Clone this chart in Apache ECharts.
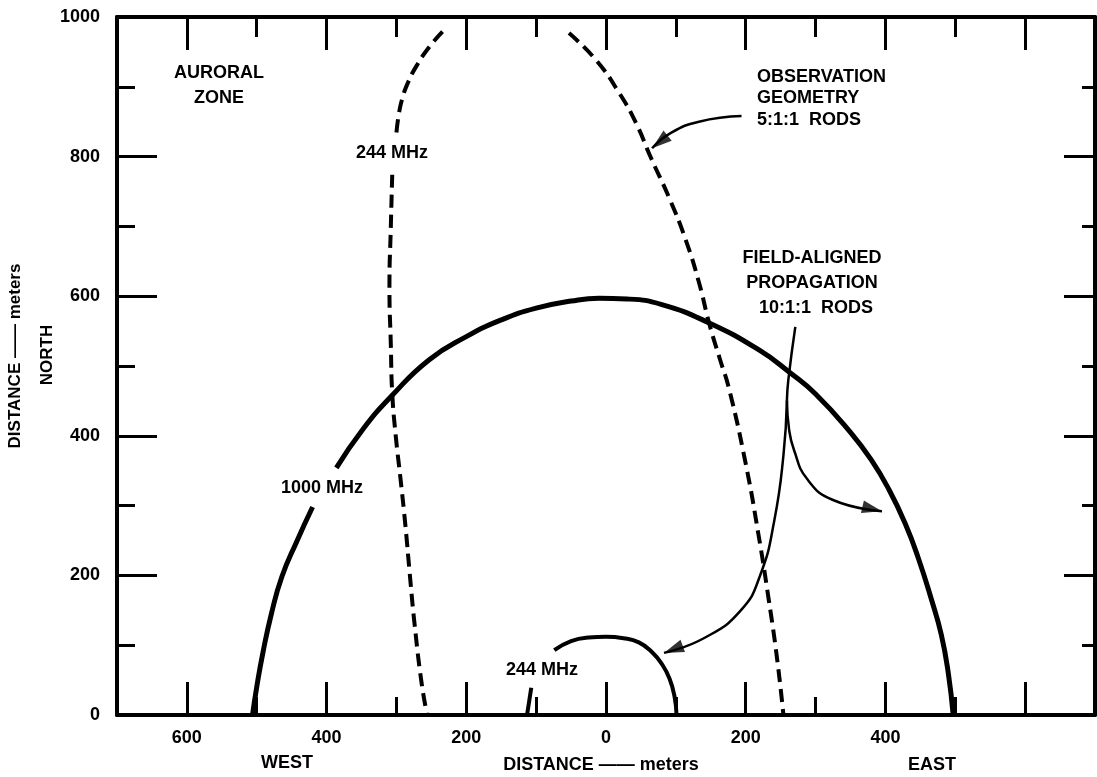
<!DOCTYPE html>
<html><head><meta charset="utf-8">
<script src="https://cdn.jsdelivr.net/npm/echarts@6/dist/echarts.min.js"></script>
<style>html,body{margin:0;padding:0;background:#fff}#c{width:1097px;height:777px}</style>
</head><body><div id="c"></div>
<script>
// ---- data (meters) ----
const xLongTicks = [-600,-400,-200,0,200,400,600];
const xShortTicks = [-500,-300,-100,100,300,500];
const xTickLabels = [-600,-400,-200,0,200,400];
const curve1000A = [[-506,0],[-500,40],[-491,90],[-479,145],[-464,198],[-443,248],[-420,298]];
const curve1000B = [[-386,354],[-349,408],[-306,458],[-253,509],[-200,542],[-150,566],[-100,583],[-50,593],[-10,597],[30,596],[80,588],[147,562],[219,523],[264,490],[300,460],[350,405],[380,365],[405,323],[428,275],[447,225],[466,165],[480,115],[490,60],[497,0]];
const dashed244Top = [[-234,979],[-253,957],[-270,932],[-283,907],[-292,882],[-297,858],[-300,834]];
const dashed244Bottom = [[-306,774],[-308,700],[-310,613],[-308,530],[-306,461],[-301,400],[-294,337],[-287,270],[-281,203],[-274,130],[-264,46],[-256,0]];
const observationCurve = [[-53,977],[-14,938],[19,891],[43,848],[64,799],[90,742],[114,681],[133,620],[148,560],[163,510],[176,468],[200,360],[218,260],[233,165],[245,80],[254,0]];
const small244Stub = [[-113,0],[-107,39]];
const small244Arc = [[-74,93],[-50,106],[-25,111],[0,112],[25,110],[47,104],[66,90],[80,73],[91,52],[98,27],[101,0]];
const obsArrow = [[194,858],[133,850],[93,834],[66,812]];
const fieldStem = [[271,556],[261,480],[259,451]];
const fieldRight = [[259,451],[262,410],[269,380],[288,338],[325,308],[395,292]];
const fieldLeft = [[259,451],[254,372],[241,279],[221,201],[193,150],[140,110],[83,89]];

const FONT = '"Liberation Sans", Arial, Helvetica, sans-serif';
const black = '#000';
const chart = echarts.init(document.getElementById('c'), null, {renderer:'canvas'});

function xAx(pos, ticks, len, showLine, labels){
  return {
    type:'value', position:pos, min:-700, max:700, interval:100,
    axisLine:{show:showLine, onZero:false, lineStyle:{color:black, width:4}},
    axisTick:{show:true, inside:true, length:len, customValues:ticks, lineStyle:{color:black, width:3}},
    axisLabel: labels ? {show:true, customValues:labels, margin:14, color:black, fontSize:18, fontWeight:'bold', fontFamily:FONT,
      formatter:v=>String(Math.abs(v))} : {show:false},
    splitLine:{show:false}
  };
}
function yAx(pos, longLen, shortLen, labels){
  return {
    type:'value', position:pos, min:0, max:1000, interval:200,
    axisLine:{show:true, onZero:false, lineStyle:{color:black, width:4}},
    axisTick:{show:true, inside:true, length:longLen, lineStyle:{color:black, width:3}},
    minorTick:{show:true, splitNumber:2, length:shortLen, lineStyle:{color:black, width:3}},
    axisLabel: labels ? {show:true, margin:17, color:black, fontSize:18, fontWeight:'bold', fontFamily:FONT,
      formatter:v=>String(v)} : {show:false},
    splitLine:{show:false}, minorSplitLine:{show:false}
  };
}
function seg(data, width, dashed){
  return {type:'line', xAxisIndex:0, yAxisIndex:0, data:data, smooth:0.5, showSymbol:false, symbol:'none',
    lineStyle:{color:black, width:width, type: dashed ? [13,7] : 'solid', cap:'butt'}, silent:true, z:3};
}
function txt(text, x, y, opts){
  opts = opts || {};
  return {type:'text', x:x, y:y, rotation: opts.rot || 0, z:10,
    style:{text:text, fill:black, fontSize: opts.size || 18, fontWeight:'bold', fontFamily:FONT,
      align: opts.align || 'center', verticalAlign:'middle', lineHeight: opts.lh || 22}};
}

const option = {
  animation:false,
  backgroundColor:'#fff',
  grid:{left:117, right:2, top:17, bottom:62, containLabel:false},
  xAxis:[xAx('bottom', xLongTicks, 33, true, xTickLabels), xAx('bottom', xShortTicks, 18, false, null),
         xAx('top', xLongTicks, 33, true, null), xAx('top', xShortTicks, 20, false, null)],
  yAxis:[yAx('left', 40, 18, true), yAx('right', 31, 13, false)],
  series:[
    seg(curve1000A, 5, false), seg(curve1000B, 5, false),
    seg(dashed244Top, 4, true), seg(dashed244Bottom, 4, true),
    seg(observationCurve, 4, true),
    seg(small244Stub, 4, false), seg(small244Arc, 4, false),
    seg(obsArrow, 2.5, false), seg(fieldStem, 2.5, false), seg(fieldRight, 2.5, false), seg(fieldLeft, 2.5, false),
    {id:'heads', type:'scatter', xAxisIndex:0, yAxisIndex:0, symbol:'triangle', symbolSize:[13,20], itemStyle:{color:black}, data:[], silent:true, z:4}
  ],
  graphic:[
    txt('AURORAL', 219, 73), txt('ZONE', 219, 98),
    txt('244 MHz', 392, 153),
    txt('1000 MHz', 322, 488),
    txt('244 MHz', 542, 670),
    txt('OBSERVATION', 757, 77, {align:'left'}), txt('GEOMETRY', 757, 98.5, {align:'left'}), txt('5:1:1  RODS', 757, 120, {align:'left'}),
    txt('FIELD-ALIGNED', 812, 258), txt('PROPAGATION', 812, 283), txt('10:1:1  RODS', 816, 308),
    txt('WEST', 287, 763), txt('DISTANCE —— meters', 601, 765), txt('EAST', 932, 765),
    txt('DISTANCE —— meters', 15, 356, {rot:Math.PI/2, size:17}),
    txt('NORTH', 47, 355, {rot:Math.PI/2, size:17})
  ]
};
chart.setOption(option);

function head(path){
  const a = chart.convertToPixel({xAxisIndex:0, yAxisIndex:0}, path[path.length-2]);
  const b = chart.convertToPixel({xAxisIndex:0, yAxisIndex:0}, path[path.length-1]);
  const dx = b[0]-a[0], dy = b[1]-a[1];
  const L = Math.hypot(dx,dy) || 1;
  const ux = dx/L, uy = dy/L;
  const c = [b[0]-ux*10, b[1]-uy*10];
  const v = chart.convertFromPixel({xAxisIndex:0, yAxisIndex:0}, c);
  const ang = Math.atan2(-dy, dx)*180/Math.PI - 90;
  return {value:v, symbolRotate:ang};
}
chart.setOption({series:[{id:'heads', data:[head(obsArrow), head(fieldRight), head(fieldLeft)]}]});
</script></body></html>
